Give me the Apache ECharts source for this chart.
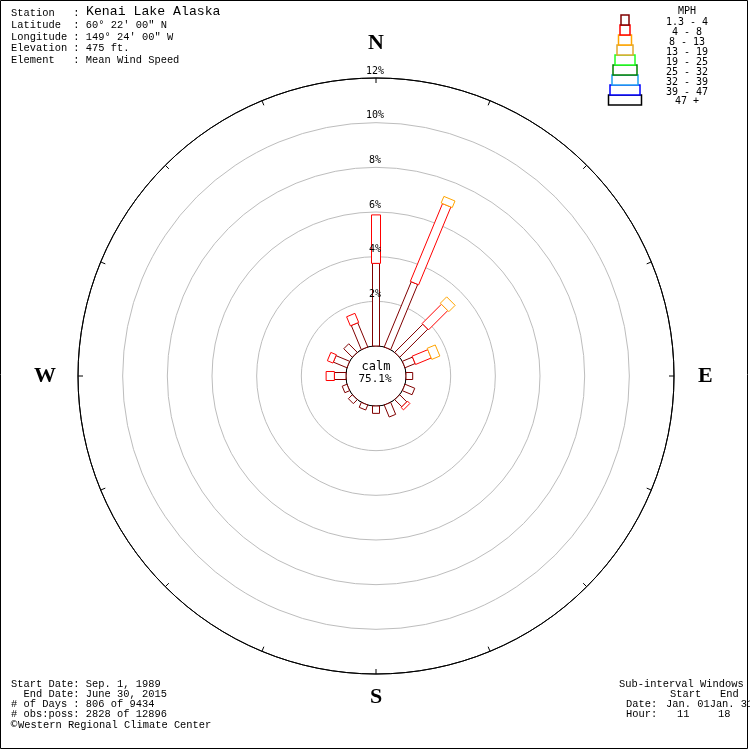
<!DOCTYPE html>
<html><head><meta charset="utf-8">
<script src="https://cdn.jsdelivr.net/npm/echarts@6/dist/echarts.min.js"></script>
<style>html,body{margin:0;padding:0;background:#fff}#c{width:750px;height:750px}</style>
</head><body><div id="c"></div>
<script>
// ---- data ----
const dirAngles = [0, 22.5, 45, 67.5, 90, 112.5, 135, 157.5, 180, 202.5, 225, 247.5, 270, 292.5, 315, 337.5];
const dirNames  = ['N','NNE','NE','ENE','E','ESE','SE','SSE','S','SSW','SW','WSW','W','WNW','NW','NNW'];
// percent of observations per speed class (MPH) and direction
const mph_1_4   = [3.70, 3.16, 1.78, 0.49, 0.30, 0.47, 0.45, 0.58, 0.33, 0.24, 0.25, 0.23, 0.52, 0.66, 0.54, 1.17];
const mph_4_8   = [2.17, 3.77, 1.22, 0.76, 0, 0, 0.15, 0, 0, 0, 0, 0, 0.37, 0.27, 0, 0.44];
const mph_8_13  = [0, 0.32, 0.40, 0.39, 0, 0, 0, 0, 0, 0, 0, 0, 0, 0, 0, 0];
const mph_13_19 = [0, 0, 0, 0, 0, 0, 0, 0, 0, 0, 0, 0, 0, 0, 0, 0];
const mph_19_25 = [0, 0, 0, 0, 0, 0, 0, 0, 0, 0, 0, 0, 0, 0, 0, 0];
const mph_25_32 = [0, 0, 0, 0, 0, 0, 0, 0, 0, 0, 0, 0, 0, 0, 0, 0];
const mph_32_39 = [0, 0, 0, 0, 0, 0, 0, 0, 0, 0, 0, 0, 0, 0, 0, 0];
const mph_39_47 = [0, 0, 0, 0, 0, 0, 0, 0, 0, 0, 0, 0, 0, 0, 0, 0];
const mph_47p   = [0, 0, 0, 0, 0, 0, 0, 0, 0, 0, 0, 0, 0, 0, 0, 0];
const speedLabels = ['1.3 - 4', '4 - 8', '8 - 13', '13 - 19', '19 - 25', '25 - 32', '32 - 39', '39 - 47', '47 +'];
const ringValues = [2, 4, 6, 8, 10, 12];
const ringLabels = ['2%', '4%', '6%', '8%', '10%', '12%'];
const compassLabels = {0: 'N', 90: 'E', 180: 'S', 270: 'W'};
const calmPct = '75.1%';

// ---- styles ----
const classValues = [mph_1_4, mph_4_8, mph_8_13, mph_13_19, mph_19_25, mph_25_32, mph_32_39, mph_39_47, mph_47p];
const classColors = ['#800000', '#ff0000', '#ffa500', '#e0a830', '#20ff20', '#008000', '#20a0f0', '#0000ff', '#000000'];
const classWidths = [7, 9, 12, 15, 18, 21, 24, 27, 30];
const legendWidths = [8, 10, 13, 16, 20, 24, 26, 30, 33];
const CX = 376, CY = 376;

const chart = echarts.init(document.getElementById('c'), null, {renderer: 'canvas'});

const series = [];
const cum = dirAngles.map(() => 0);
classValues.forEach((vals, k) => {
  const data = [];
  vals.forEach((v, i) => {
    if (v > 0) { data.push([cum[i] + v, dirAngles[i], cum[i]]); cum[i] += v; }
  });
  const color = classColors[k], w = classWidths[k];
  series.push({
    type: 'custom', coordinateSystem: 'polar', name: speedLabels[k], z: 2 + k * 0.01,
    silent: true, animation: false, data: data,
    renderItem: function (params, api) {
      const end = api.value(0), ang = api.value(1), start = api.value(2);
      const p0 = api.coord([start, ang]), p1 = api.coord([end, ang]);
      const dx = p1[0] - p0[0], dy = p1[1] - p0[1];
      const L = Math.hypot(dx, dy) || 1;
      const px = -dy / L * w / 2, py = dx / L * w / 2;
      return {
        type: 'polygon',
        shape: {points: [[p0[0] + px, p0[1] + py], [p1[0] + px, p1[1] + py], [p1[0] - px, p1[1] - py], [p0[0] - px, p0[1] - py]]},
        style: {fill: '#ffffff', stroke: color, lineWidth: 1}
      };
    }
  });
});
// ring labels
series.push({
  type: 'custom', coordinateSystem: 'polar', z: 10, silent: true, animation: false,
  data: ringValues.map((v, i) => [v, 0, i]),
  renderItem: function (params, api) {
    const p = api.coord([api.value(0), api.value(1)]);
    return {type: 'text', x: p[0] - 1, y: p[1] - 2,
      style: {text: ringLabels[api.value(2)], textAlign: 'center', textVerticalAlign: 'bottom',
        font: '10px "DejaVu Sans Mono"', fill: '#000'}};
  }
});

const graphics = [];
graphics.push({type: 'rect', shape: {x: 0.5, y: 0.5, width: 747, height: 748}, style: {fill: null, stroke: '#000', lineWidth: 1}, z: 100});
// calm text
graphics.push({type: 'circle', shape: {cx: CX, cy: CY, r: 29.5}, style: {fill: '#fff', stroke: null}, z: 1});
graphics.push({type: 'text', x: CX, y: 367, style: {text: 'calm', textAlign: 'center', textVerticalAlign: 'middle', font: '12px "DejaVu Sans Mono"', fill: '#000'}, z: 20});
graphics.push({type: 'text', x: CX - 1, y: 379, style: {text: calmPct, textAlign: 'center', textVerticalAlign: 'middle', font: '11px "DejaVu Sans Mono"', fill: '#000'}, z: 20});
// header
const monoFont = '10.4px "Liberation Mono"';
const hdr = ['Station   : ', 'Latitude  : 60\u00b0 22\' 00" N', 'Longitude : 149\u00b0 24\' 00" W', 'Elevation : 475 ft.', 'Element   : Mean Wind Speed'];
hdr.forEach((t, i) => graphics.push({type: 'text', x: 11, y: 13 + 11.9 * i, style: {text: t, textVerticalAlign: 'middle', font: monoFont, fill: '#000'}, z: 20}));
graphics.push({type: 'text', x: 86, y: 12, style: {text: 'Kenai Lake Alaska', textVerticalAlign: 'middle', font: '13.2px "Liberation Mono"', fill: '#000'}, z: 20});
// footer left
const foot = ['Start Date: Sep. 1, 1989', '  End Date: June 30, 2015', '# of Days : 806 of 9434', '# obs:poss: 2828 of 12896'];
foot.forEach((t, i) => graphics.push({type: 'text', x: 11, y: 684 + 10 * i, style: {text: t, textVerticalAlign: 'middle', font: monoFont, fill: '#000'}, z: 20}));
graphics.push({type: 'text', x: 9.5, y: 725, style: {text: '\u00a9', textVerticalAlign: 'middle', font: '9px "DejaVu Sans"', fill: '#000'}, z: 20});
graphics.push({type: 'text', x: 18, y: 725, style: {text: 'Western Regional Climate Center', textVerticalAlign: 'middle', font: monoFont, fill: '#000'}, z: 20});
// footer right
const fr = [['Sub-interval Windows', 619, 684], ['Start', 670, 694], ['End', 720, 694], ['Date:', 626, 704], ['Jan. 01Jan. 31', 666, 704], ['Hour:', 626, 714], ['11', 677, 714], ['18', 718, 714]];
fr.forEach(a => graphics.push({type: 'text', x: a[1], y: a[2], style: {text: a[0], textVerticalAlign: 'middle', font: monoFont, fill: '#000'}, z: 20}));
// legend
graphics.push({type: 'text', x: 687, y: 11, style: {text: 'MPH', textAlign: 'center', textVerticalAlign: 'middle', font: '10px "DejaVu Sans Mono"', fill: '#000'}, z: 20});
speedLabels.forEach((t, i) => {
  const w = legendWidths[i];
  graphics.push({type: 'rect', shape: {x: 625 - w / 2, y: 15 + 10 * i, width: w, height: 10}, style: {fill: '#fff', stroke: classColors[i], lineWidth: 1.5}, z: 20 - i * 0.01});
  graphics.push({type: 'text', x: 687, y: 22.7 + 9.9 * i, style: {text: t, textAlign: 'center', textVerticalAlign: 'middle', font: '10px "DejaVu Sans Mono"', fill: '#000'}, z: 20});
});

const compassStyle = {fontFamily: 'Liberation Serif', fontWeight: 'bold', fontSize: 22, color: '#000'};
chart.setOption({
  animation: false,
  backgroundColor: '#fff',
  polar: {center: [CX, CY], radius: [30, 298]},
  angleAxis: {
    type: 'value', min: 0, max: 360, interval: 22.5, startAngle: 90, clockwise: true,
    axisLine: {show: true, lineStyle: {color: '#000', width: 1}},
    axisTick: {show: true, inside: true, length: 5, lineStyle: {color: '#000', width: 1}},
    splitLine: {show: false},
    axisLabel: {
      show: true, margin: 10,
      formatter: function (v) {
        const k = compassLabels[v];
        if (!k || v >= 360) return '';
        return '{' + k.toLowerCase() + '|' + k + '}';
      },
      rich: {
        n: Object.assign({padding: [0, 0, 14, 0]}, compassStyle),
        s: Object.assign({padding: [2, 0, 0, 0]}, compassStyle),
        e: Object.assign({padding: [0, 0, 0, 14]}, compassStyle),
        w: Object.assign({padding: [0, 12, 0, 0]}, compassStyle)
      }
    }
  },
  radiusAxis: {
    type: 'value', min: 0, max: 12, interval: 2,
    axisLine: {show: false}, axisTick: {show: false}, axisLabel: {show: false},
    splitLine: {show: true, lineStyle: {color: ['#000', '#bdbdbd', '#bdbdbd', '#bdbdbd', '#bdbdbd', '#bdbdbd', '#000'], width: 1}}
  },
  graphic: graphics,
  series: series
});
</script></body></html>
